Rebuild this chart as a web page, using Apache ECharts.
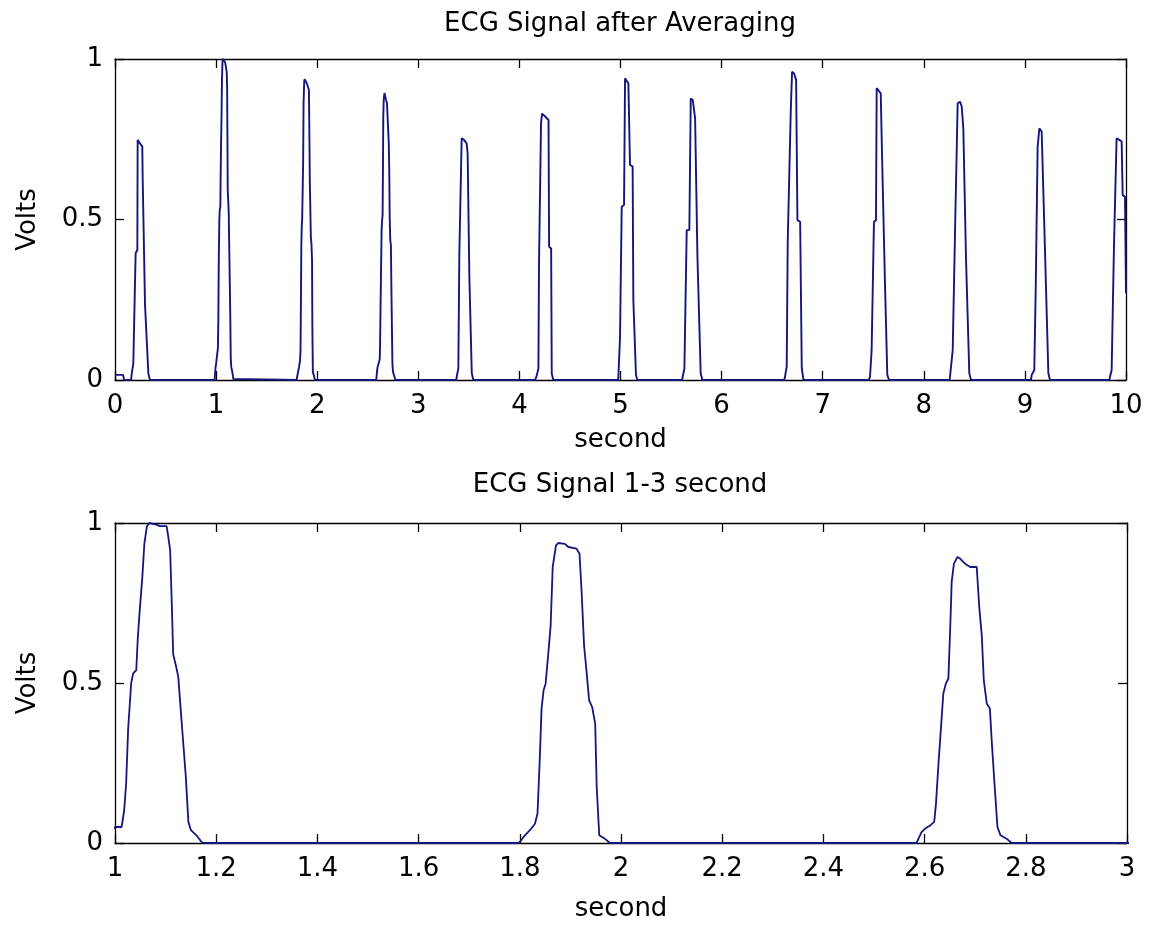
<!DOCTYPE html>
<html><head><meta charset="utf-8">
<script src="https://cdn.jsdelivr.net/npm/echarts@6/dist/echarts.min.js"></script>
<style>html,body{margin:0;padding:0;background:#fff}#c{width:1155px;height:926px}</style>
</head><body><div id="c"></div>
<script>
// ---- data: [seconds, volts] ----
const lead = [[0,0.016],[0.08,0.016],[0.09,0]];
const beat01 = [[0.16,0],[0.165,0.02],[0.181,0.05],[0.204,0.395],[0.221,0.405],[0.224,0.748],[0.247,0.737],[0.270,0.727],[0.274,0.623],[0.290,0.623],[0.297,0.234],[0.313,0.228],[0.330,0.02],[0.346,0]];
const beat02 = [[0.985,0],[0.995,0.04],[1.0,0.05],[1.013,0.05],[1.018,0.10],[1.022,0.185],[1.026,0.357],[1.032,0.50],[1.036,0.53],[1.042,0.54],[1.045,0.64],[1.049,0.73],[1.054,0.83],[1.058,0.935],[1.063,0.99],[1.068,1.0],[1.079,0.996],[1.089,0.99],[1.102,0.99],[1.105,0.96],[1.109,0.915],[1.112,0.76],[1.115,0.59],[1.121,0.55],[1.125,0.52],[1.128,0.456],[1.135,0.31],[1.140,0.206],[1.145,0.066],[1.150,0.04],[1.161,0.024],[1.171,0.003],[1.175,0]];
const beat03 = [[1.796,0],[1.800,0.003],[1.810,0.024],[1.820,0.040],[1.830,0.060],[1.835,0.092],[1.839,0.243],[1.843,0.420],[1.847,0.477],[1.851,0.498],[1.856,0.586],[1.861,0.680],[1.865,0.8625],[1.8715,0.930],[1.876,0.9375],[1.889,0.935],[1.896,0.925],[1.912,0.920],[1.918,0.904],[1.922,0.790],[1.927,0.618],[1.932,0.534],[1.937,0.446],[1.943,0.425],[1.949,0.373],[1.952,0.175],[1.957,0.024],[1.968,0.0135],[1.978,0]];
const beat04 = [[2.584,0],[2.588,0.0135],[2.594,0.034],[2.601,0.045],[2.611,0.055],[2.619,0.066],[2.6225,0.123],[2.627,0.2375],[2.632,0.352],[2.637,0.467],[2.642,0.498],[2.647,0.514],[2.650,0.644],[2.652,0.7375],[2.6535,0.816],[2.658,0.873],[2.665,0.894],[2.670,0.889],[2.680,0.873],[2.690,0.8625],[2.703,0.8625],[2.708,0.7375],[2.713,0.649],[2.717,0.508],[2.723,0.435],[2.729,0.42],[2.733,0.31],[2.739,0.165],[2.744,0.05],[2.750,0.024],[2.762,0.0135],[2.772,0]];
const beat05 = [[3.375,0],[3.380,0.010],[3.396,0.036],[3.406,0.395],[3.422,0.395],[3.429,0.753],[3.452,0.748],[3.478,0.737],[3.488,0.706],[3.502,0.706],[3.505,0.322],[3.521,0.322],[3.529,0.021],[3.544,0]];
const beat06 = [[4.155,0],[4.170,0.012],[4.188,0.036],[4.194,0.363],[4.210,0.363],[4.214,0.80],[4.224,0.83],[4.237,0.836],[4.258,0.82],[4.288,0.81],[4.294,0.415],[4.314,0.41],[4.320,0.02],[4.335,0]];
const beat07 = [[4.975,0],[4.979,0.010],[4.995,0.13],[5.012,0.54],[5.035,0.545],[5.045,0.94],[5.061,0.935],[5.078,0.924],[5.094,0.67],[5.120,0.665],[5.127,0.249],[5.143,0.244],[5.153,0.016],[5.166,0]];
const beat08 = [[5.610,0],[5.615,0.010],[5.632,0.036],[5.655,0.467],[5.681,0.467],[5.695,0.877],[5.715,0.872],[5.738,0.815],[5.761,0.384],[5.780,0.379],[5.793,0.021],[5.810,0]];
const beat09 = [[6.620,0],[6.627,0.010],[6.644,0.042],[6.654,0.431],[6.670,0.436],[6.684,0.836],[6.697,0.96],[6.717,0.955],[6.737,0.935],[6.750,0.498],[6.777,0.493],[6.793,0.036],[6.810,0]];
const beat10 = [[7.455,0],[7.468,0.010],[7.484,0.093],[7.507,0.493],[7.527,0.498],[7.534,0.909],[7.551,0.903],[7.574,0.893],[7.587,0.70],[7.600,0.696],[7.616,0.301],[7.633,0.296],[7.639,0.016],[7.656,0]];
const beat11 = [[8.255,0],[8.259,0.010],[8.286,0.093],[8.309,0.464],[8.325,0.467],[8.335,0.862],[8.358,0.867],[8.375,0.852],[8.391,0.784],[8.408,0.779],[8.417,0.384],[8.431,0.379],[8.450,0.021],[8.467,0]];
const beat12 = [[9.060,0],[9.067,0.016],[9.093,0.031],[9.107,0.286],[9.123,0.291],[9.126,0.727],[9.143,0.784],[9.166,0.774],[9.183,0.768],[9.199,0.40],[9.216,0.395],[9.232,0.021],[9.248,0]];
const beat13 = [[9.835,0],[9.842,0.010],[9.858,0.031],[9.881,0.415],[9.897,0.421],[9.907,0.753],[9.934,0.748],[9.957,0.743],[9.967,0.576],[9.990,0.571],[10.0,0.27]];

const topTitle = 'ECG Signal after Averaging';
const bottomTitle = 'ECG Signal 1-3 second';
const xName = 'second';
const yName = 'Volts';
const topXRange = [0, 10], topXStep = 1;
const bottomXRange = [1, 3], bottomXStep = 0.2;
const yRange = [0, 1], yStep = 0.5;

// ---- build ----
const signal = [].concat(lead, beat01, beat02, beat03, beat04, beat05, beat06, beat07,
  beat08, beat09, beat10, beat11, beat12, beat13);

const FONT = 'DejaVu Sans';
const FS = 26;
const lineColor = '#15157e';

function xAx(grid, range, step, primary, gap) {
  return {
    type: 'value', gridIndex: grid, min: range[0], max: range[1], interval: step,
    position: primary ? 'bottom' : 'top',
    name: primary ? xName : '', nameLocation: 'middle', nameGap: gap,
    nameTextStyle: { color: '#000', fontFamily: FONT, fontSize: FS },
    axisLine: { show: true, onZero: false, lineStyle: { color: '#000', width: 1.3 } },
    axisTick: { show: true, inside: true, length: 9, lineStyle: { color: '#000', width: 1.3 } },
    axisLabel: { show: primary, margin: 13, color: '#000', fontFamily: FONT, fontSize: FS },
    splitLine: { show: false }
  };
}
function yAx(grid, primary) {
  return {
    type: 'value', gridIndex: grid, min: yRange[0], max: yRange[1], interval: yStep,
    position: primary ? 'left' : 'right',
    name: primary ? yName : '', nameLocation: 'middle', nameGap: 74, nameRotate: 90,
    nameTextStyle: { color: '#000', fontFamily: FONT, fontSize: FS },
    axisLine: { show: true, onZero: false, lineStyle: { color: '#000', width: 1.3 } },
    axisTick: { show: true, inside: true, length: 9, lineStyle: { color: '#000', width: 1.3 } },
    axisLabel: { show: primary, margin: 12, color: '#000', fontFamily: FONT, fontSize: FS },
    splitLine: { show: false }
  };
}

const chart = echarts.init(document.getElementById('c'), null, { renderer: 'canvas' });
chart.setOption({
  animation: false,
  backgroundColor: '#fff',
  title: [
    { text: topTitle, left: 620, top: 11, textAlign: 'center', padding: 0,
      textStyle: { color: '#000', fontFamily: FONT, fontSize: FS, fontWeight: 'normal' } },
    { text: bottomTitle, left: 620, top: 472, textAlign: 'center', padding: 0,
      textStyle: { color: '#000', fontFamily: FONT, fontSize: FS, fontWeight: 'normal' } }
  ],
  grid: [
    { left: 115, top: 59, width: 1011, height: 321 },
    { left: 115, top: 523, width: 1012, height: 320 }
  ],
  xAxis: [
    xAx(0, topXRange, topXStep, true, 47), xAx(0, topXRange, topXStep, false, 0),
    xAx(1, bottomXRange, bottomXStep, true, 53), xAx(1, bottomXRange, bottomXStep, false, 0)
  ],
  yAxis: [ yAx(0, true), yAx(0, false), yAx(1, true), yAx(1, false) ],
  series: [
    { type: 'line', xAxisIndex: 0, yAxisIndex: 0, data: signal, showSymbol: false,
      lineStyle: { color: lineColor, width: 1.9 }, clip: true, z: 3 },
    { type: 'line', xAxisIndex: 2, yAxisIndex: 2, data: signal, showSymbol: false,
      lineStyle: { color: lineColor, width: 1.8 }, clip: true, z: 3 }
  ]
});
</script></body></html>
